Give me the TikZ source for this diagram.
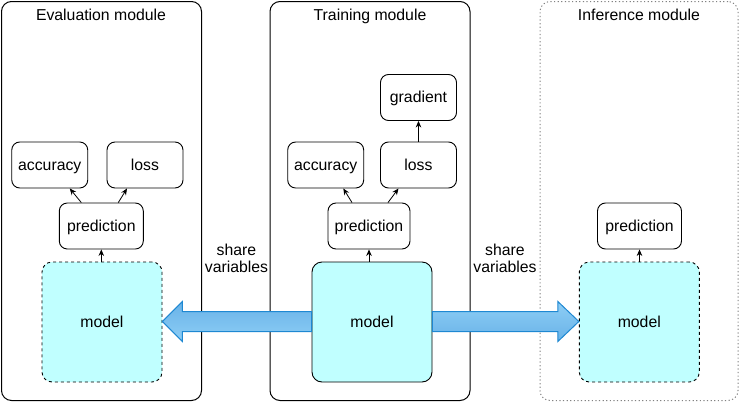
\documentclass[tikz,border=0pt]{standalone}
\usepackage{fontspec}
\setmainfont{Liberation Sans}
\usetikzlibrary{arrows.meta,calc}
\definecolor{cyanfill}{RGB}{192,255,255}
\definecolor{arrowstroke}{RGB}{30,136,210}
\definecolor{arrowdark}{RGB}{104,178,232}
\definecolor{arrowlight}{RGB}{142,206,245}
\definecolor{framegray}{RGB}{130,130,130}
\begin{document}
\begin{tikzpicture}[x=1pt,y=-1pt,
  font=\fontsize{15.8}{17}\selectfont,
  frame/.style={draw, line width=1pt, rounded corners=10pt, minimum width=200pt, minimum height=399pt, inner sep=0pt},
  dotframe/.style={frame, draw=framegray, dash pattern=on 1.2pt off 2.4pt, minimum width=198pt},
  title/.style={inner sep=0pt, text height=12pt, text depth=2pt},
  box/.style={draw, line width=0.9pt, rounded corners=8pt, minimum width=76pt, minimum height=46pt, inner sep=0pt, text height=12pt, text depth=2pt},
  modelbox/.style={box, fill=cyanfill, rounded corners=10pt, minimum width=120pt, minimum height=120pt},
  dashmodel/.style={modelbox, dash pattern=on 3pt off 3pt},
  link/.style={line width=0.8pt, -{Stealth[length=6.5pt,width=5.5pt]}},
  bigarrow/.style={draw=arrowstroke, line width=1pt},
  lbl/.style={align=center, inner sep=0pt}
]
\useasboundingbox (0,0) rectangle (740,402);

% frames
\node[frame] (fE) at (101.5,201) {};
\node[frame] (fT) at (370,201) {};
\node[dotframe] (fI) at (639,201) {};
\node[title] (tE) at (101,15.7) {Evaluation module};
\node[title] (tT) at (370,15.7) {Training module};
\node[title] (tI) at (639,15.7) {Inference module};

% evaluation module
\node[box] (accE) at (49.75,165) {accuracy};
\node[box] (lossE) at (145,165) {loss};
\node[box, minimum width=84pt] (predE) at (101.3,226) {prediction};
\node[dashmodel] (modelE) at (102,322) {model};

% training module
\node[box] (gradT) at (418.5,97.5) {gradient};
\node[box] (accT) at (325.7,165) {accuracy};
\node[box] (lossT) at (418.5,165) {loss};
\node[box, minimum width=82pt] (predT) at (369,226) {prediction};
\node[modelbox] (modelT) at (372,322) {model};

% inference module
\node[box, minimum width=84pt] (predI) at (639.5,226) {prediction};
\node[dashmodel] (modelI) at (639.3,322) {model};

% small arrows
\draw[link] ($(predE.north)+(-20,0)$) -- ($(accE.south)+(20,0)$);
\draw[link] ($(predE.north)+(17,0)$) -- ($(lossE.south)+(-18,0)$);
\draw[link] (modelE.north -| predE.south) -- (predE.south);

\draw[link] ($(predT.north)+(-17,0)$) -- ($(accT.south)+(17.6,0)$);
\draw[link] ($(predT.north)+(19,0)$) -- ($(lossT.south)+(-20,0)$);
\draw[link] (lossT.north) -- (gradT.south);
\draw[link] (modelT.north -| predT.south) -- (predT.south);

\draw[link] (modelI.north -| predI.south) -- (predI.south);

% big arrows
\coordinate (lt) at ($(modelT.west)+(0,-0.5)$);
\coordinate (lh) at ($(modelE.east)+(0,-0.5)$);
\path[bigarrow, top color=arrowdark, bottom color=arrowlight]
  ($(lt)+(0,-10)$) -- ($(lh)+(20,-10)$) -- ($(lh)+(20,-20)$) -- (lh)
  -- ($(lh)+(20,20)$) -- ($(lh)+(20,10)$) -- ($(lt)+(0,10)$) -- cycle;
\coordinate (rt) at ($(modelT.east)+(0,-0.5)$);
\coordinate (rh) at ($(modelI.west)+(0,-0.5)$);
\path[bigarrow, top color=arrowlight, bottom color=arrowdark]
  ($(rt)+(0,-10)$) -- ($(rh)+(-21,-10)$) -- ($(rh)+(-21,-20)$) -- (rh)
  -- ($(rh)+(-21,20)$) -- ($(rh)+(-21,10)$) -- ($(rt)+(0,10)$) -- cycle;

% labels
\node[lbl] (sL) at (236.5,258.5) {share\\variables};
\node[lbl] (sR) at (505,258.5) {share\\variables};
\end{tikzpicture}
\end{document}
